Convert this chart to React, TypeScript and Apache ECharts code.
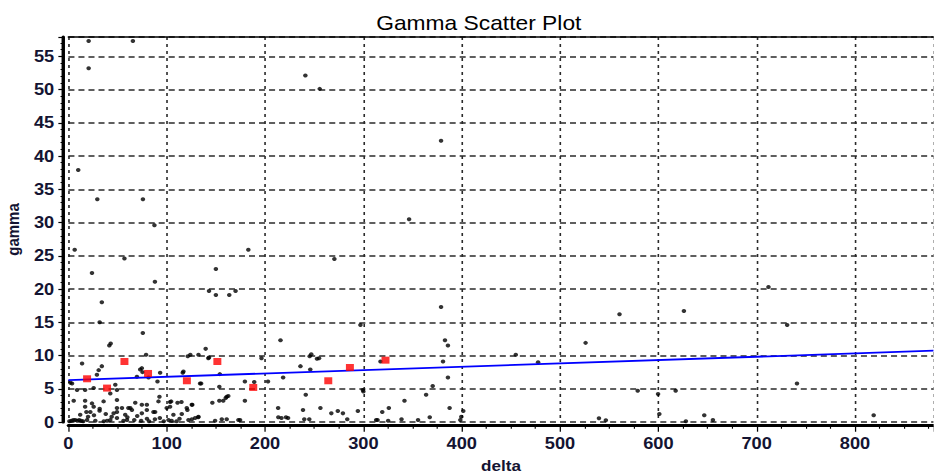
import React, { useEffect, useRef } from "react";
import * as echarts from "echarts";

// ---------- data ----------
const titleText = "Gamma Scatter Plot";
const xName = "delta";
const yName = "gamma";

// scattered points well above the trend
const upperPoints: [number, number][] = [
  [20.6, 57.3], [65.6, 57.3], [20.6, 53.2], [241, 52.1], [255.6, 50.1], [379, 42.3],
  [10, 37.9], [29.4, 33.5], [75.8, 33.5], [87.5, 29.6], [346.5, 30.5],
  [6.4, 25.9], [57, 24.6], [24, 22.4], [88, 21.1], [34, 18.0], [31.8, 15.0], [75.7, 13.4],
  [43, 11.8], [41.6, 11.5], [183, 25.9], [150, 23.0], [150, 19.1], [143, 19.7],
  [163.6, 19.1], [170, 19.7], [270.5, 24.5], [297, 14.6], [215.7, 12.3],
  [379, 17.3], [383, 12.3], [386, 11.5], [455, 10.1], [526, 11.9], [560.5, 16.2],
  [626, 16.7], [712, 20.3], [731, 14.6],
];

// points around the trend line
const middlePoints: [number, number][] = [
  [381, 9.1], [386, 6.7], [139.6, 11.0], [143, 9.7], [124, 10.1], [121.4, 9.9], [142.3, 9.6],
  [196.4, 9.6], [117, 7.6], [135, 5.8], [154, 7.2], [179.5, 6.1], [236, 8.4], [245.4, 9.9],
  [246, 7.9], [252.8, 9.5], [247, 10.2], [254.9, 9.6], [317.4, 9.1], [300, 4.6], [218.4, 6.7],
  [241.4, 4.1], [477.7, 9.0], [741, 5.8], [599.7, 4.2], [617.6, 4.7], [579, 4.7],
  [2, 5.9], [3.7, 5.8], [8.8, 4.8], [17, 4.8], [25.7, 5.1], [42.6, 4.3], [49.4, 4.8], [47.7, 5.6],
  [13.9, 8.8], [34, 8.4], [29, 7.1], [73, 7.9], [75.4, 7.5], [81.5, 6.7], [93.3, 7.4], [79, 10.1],
  [69.7, 6.8], [74.7, 8.1], [90.6, 6.1], [116.3, 7.4], [133.9, 5.8], [153.5, 5.3], [189, 6.0],
  [203, 6.1], [299.5, 4.8], [370.5, 5.4], [363.8, 4.1], [30.8, 7.8], [132.3, 10.1],
];

// dense cloud near zero
const lowerPoints: [number, number][] = [
  [5.4, 3.2], [17, 3.2], [17, 2.3], [18.3, 1.5], [22.3, 1.5], [25.7, 2.3], [31.7, 1.7], [35.8, 3.1],
  [46, 1.3], [49.4, 2.1], [54.5, 2.1], [49.4, 3.3], [61, 2.1], [64.6, 1.8], [57.8, 1.1], [74.7, 1.3],
  [79.8, 1.8], [86.5, 1.5], [91.6, 3.1], [74.7, 2.6], [24, 2.8], [31.8, 2.0], [49.4, 1.5], [63, 2.1],
  [68, 2.9], [79.8, 2.6], [88.2, 1.5], [92.6, 3.8], [100, 2.1], [103.4, 3.0], [106.8, 1.1],
  [115, 3.0], [121, 1.8], [125.5, 2.6], [146.4, 2.9], [153.5, 3.2], [161, 3.8], [179.5, 3.2],
  [104.5, 3.1], [111, 2.9], [103.4, 2.3], [115.3, 1.2], [120.4, 2.1], [126, 2.6], [157.5, 3.2],
  [160, 3.6], [162.6, 3.9], [132, 0.7], [213.3, 2.1], [238.6, 1.8], [256.3, 2.1], [267.4, 1.3],
  [274, 1.65], [279.2, 1.3], [294.4, 1.65], [319.2, 1.5], [325.9, 2.1], [341.8, 3.2], [387.7, 2.1],
  [399.6, 0.8], [401.6, 1.65], [601, 1.2], [539.6, 0.55], [546.6, 0.25], [628, 0.1], [646.7, 1.0],
  [655.5, 0.3], [819, 1.0], [38, 1.2], [44, 0.8], [60, 0.7], [70, 0.9], [88, 0.4], [93, 0.6],
  [113, 0.5], [20, 0.8], [26, 1.0], [12, 1.1],
  [1, 0.1], [3, 0.2], [5, 0.3], [7, 0.3], [9, 0.2], [11, 0.3], [13, 0.2], [15, 0.1], [19, 0.3],
  [27.4, 0.2], [36, 0.1], [39.3, 0.2], [42.6, 0.3], [49.4, 0.6], [56, 0.2], [59.6, 0.3], [67, 0.3],
  [74, 0.2], [79.9, 0.5], [82, 0.1], [97, 0.1], [101.8, 0.3], [105, 0.2], [110, 0.1], [122.1, 0.3],
  [125.6, 0.4], [128.9, 0.6], [132.3, 0.8], [149.2, 0.2], [156, 0.4], [161, 0.4], [172.9, 0.3],
  [174.6, 0.3], [213.5, 0.7], [221.3, 0.7], [216.7, 0.6], [223.4, 0.6], [239.9, 0.4], [245, 0.4],
  [283.6, 0.4], [313, 0.3], [314.4, 0.3], [325.2, 0.2], [338.8, 0.4], [355.6, 0.3], [367.5, 0.7],
  [398.6, 0.3],
];

// highlighted (red) points
const redPoints: [number, number][] = [
  [19, 6.5], [39.3, 5.1], [57, 9.1], [81, 7.3], [120.5, 6.2], [151.5, 9.1], [188, 5.2],
  [264.3, 6.2], [286.3, 8.2], [322.5, 9.3],
];

// fitted trend line
const trendLine: [number, number][] = [
  [0, 6.3],
  [880, 10.72],
];

const xTicks = { min: 0, max: 880, interval: 100 };
const yTicks = { min: 0, max: 57.9, interval: 5 };

// ---------- layout ----------
const SX = 1.14; // the original is stretched horizontally
const W = 934 / SX;
const H = 475;
const FONT = '"Liberation Sans", Arial, sans-serif';
const LABEL_COLOR = "#141432";
const GRID_COLOR = "#2a2a2a";

export default function App() {
  const ref = useRef<HTMLDivElement>(null);

  useEffect(() => {
    if (!ref.current) return;
    const chart = echarts.init(ref.current, undefined, { renderer: "svg" });
    const blackPoints = [...upperPoints, ...middlePoints, ...lowerPoints];

    chart.setOption({
      animation: false,
      backgroundColor: "#ffffff",
      title: {
        text: titleText,
        left: 415,
        top: 8,
        textAlign: "center",
        textStyle: { fontFamily: FONT, fontSize: 20, fontWeight: "normal", color: "#000" },
      },
      grid: { left: 60, right: 0, top: 37, bottom: 53, containLabel: false, outerBoundsMode: "none" },
      xAxis: [
        {
          type: "value",
          position: "bottom",
          min: xTicks.min,
          max: xTicks.max,
          interval: xTicks.interval,
          offset: 3.7,
          name: xName,
          nameLocation: "middle",
          nameGap: 32,
          nameTextStyle: { fontFamily: FONT, fontSize: 15, fontWeight: "bold", color: LABEL_COLOR },
          axisLine: { show: true, onZero: false, lineStyle: { color: "#000", width: 3 } },
          axisTick: { show: true, length: 6, lineStyle: { color: "#000", width: 1.1 } },
          minorTick: { show: true, splitNumber: 4, length: 3, lineStyle: { color: "#000", width: 1 } },
          axisLabel: {
            fontFamily: FONT,
            fontSize: 16,
            fontWeight: "bold",
            color: LABEL_COLOR,
            margin: 10,
            showMaxLabel: false,
          },
          splitLine: { show: true, lineStyle: { color: GRID_COLOR, width: 1.4, type: [3, 4] } },
        },
        {
          type: "value",
          position: "top",
          min: xTicks.min,
          max: xTicks.max,
          axisLine: { show: true, onZero: false, lineStyle: { color: "#000", width: 1.5 } },
          axisTick: { show: false },
          axisLabel: { show: false },
          splitLine: { show: false },
        },
      ],
      yAxis: {
        type: "value",
        min: yTicks.min,
        max: yTicks.max,
        interval: yTicks.interval,
        offset: 4.4,
        name: yName,
        nameLocation: "middle",
        nameRotate: 90,
        nameGap: 33,
        nameTextStyle: { fontFamily: FONT, fontSize: 15, fontWeight: "bold", color: LABEL_COLOR },
        axisLine: { show: true, onZero: false, lineStyle: { color: "#000", width: 3 } },
        axisTick: { show: true, length: 4.4, lineStyle: { color: "#000", width: 1.2 } },
        minorTick: { show: true, splitNumber: 5, length: 2.5, lineStyle: { color: "#000", width: 1 } },
        axisLabel: {
          fontFamily: FONT,
          fontSize: 16,
          fontWeight: "bold",
          color: LABEL_COLOR,
          margin: 8,
          showMaxLabel: false,
        },
        splitLine: { show: true, lineStyle: { color: GRID_COLOR, width: 1.5, type: [5.3, 3.5] } },
      },
      series: [
        {
          type: "scatter",
          xAxisIndex: 0,
          data: blackPoints,
          symbol: "circle",
          symbolSize: 4,
          itemStyle: { color: "#000" },
          z: 2,
        },
        {
          type: "line",
          xAxisIndex: 0,
          data: trendLine,
          showSymbol: false,
          symbol: "none",
          lineStyle: { color: "#0000ff", width: 1.8 },
          z: 3,
        },
        {
          type: "scatter",
          xAxisIndex: 0,
          data: redPoints,
          symbol: "rect",
          symbolSize: [7, 7],
          itemStyle: { color: "#ff0000" },
          z: 4,
        },
      ],
    });

    return () => chart.dispose();
  }, []);

  return (
    <div
      ref={ref}
      style={{
        position: "absolute",
        left: 0,
        top: 0,
        width: W,
        height: H,
        transform: `scaleX(${SX})`,
        transformOrigin: "0 0",
      }}
    />
  );
}
